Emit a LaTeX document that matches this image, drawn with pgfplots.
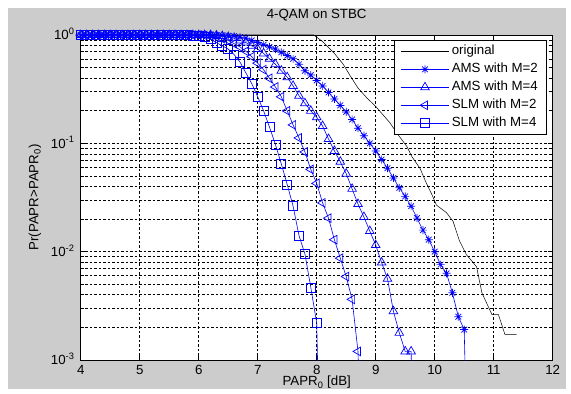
\documentclass[border=0pt]{standalone}
\usepackage{pgfplots}
\pgfplotsset{compat=1.18}
\usepackage{fontspec}
\setmainfont{Liberation Sans}
\pgfdeclareplotmark{mstar}{%
  \pgfpathmoveto{\pgfqpoint{-\pgfplotmarksize}{0pt}}\pgfpathlineto{\pgfqpoint{\pgfplotmarksize}{0pt}}%
  \pgfpathmoveto{\pgfqpoint{0pt}{-\pgfplotmarksize}}\pgfpathlineto{\pgfqpoint{0pt}{\pgfplotmarksize}}%
  \pgfpathmoveto{\pgfqpoint{-0.7071\pgfplotmarksize}{-0.7071\pgfplotmarksize}}\pgfpathlineto{\pgfqpoint{0.7071\pgfplotmarksize}{0.7071\pgfplotmarksize}}%
  \pgfpathmoveto{\pgfqpoint{-0.7071\pgfplotmarksize}{0.7071\pgfplotmarksize}}\pgfpathlineto{\pgfqpoint{0.7071\pgfplotmarksize}{-0.7071\pgfplotmarksize}}%
  \pgfusepathqstroke}
\definecolor{figgray}{RGB}{204,204,204}
\pgfplotsset{longleg/.style={legend image code/.code={%
  \draw[mark repeat=2,mark phase=2] plot coordinates {(0pt,0pt) (24pt,0pt) (48pt,0pt)};}}}
\begin{document}
\begin{tikzpicture}[font=\fontsize{13.3pt}{16pt}\selectfont]
\fill[white] (0,0) rectangle (571pt,394pt);
\fill[figgray] (8pt,5pt) rectangle (566pt,386pt);
\begin{axis}[
  at={(80.7pt,34pt)}, anchor=south west,
  scale only axis, width=472pt, height=325pt,
  xmin=4, xmax=12, ymode=log, ymin=1e-3, ymax=1,
  xtick={4,5,6,7,8,9,10,11,12}, xticklabels={4,5,6,7,8,9,10,11,12},
  ytick={1e-3,1e-2,1e-1,1},
  yticklabels={10\textsuperscript{-3},10\textsuperscript{-2},10\textsuperscript{-1},10\textsuperscript{0}},
  xticklabel style={anchor=north, inner sep=0pt, yshift=-5pt},
  yticklabel style={anchor=base east, inner sep=0pt, xshift=-6pt, yshift=-4.7pt},
  tick align=inside, major tick length=5pt, minor tick length=3pt,
  every tick/.style={black, line width=0.6pt},
  axis background/.style={fill=white},
  axis line style={line width=0.8pt},
  xmajorgrids, ymajorgrids, yminorgrids,
  major grid style={black, dash pattern=on 2.5pt off 2pt, line width=0.6pt},
  minor grid style={black, dash pattern=on 2.5pt off 2pt, line width=0.6pt},
  title={4-QAM on STBC},
  title style={at={(axis description cs:0.5,1)}, anchor=base, yshift=10pt, inner sep=0pt},
  xlabel={PAPR\textsubscript{0} [dB]},
  xlabel style={at={(axis description cs:0.5,0)}, anchor=north, yshift=-16pt, inner sep=0pt},
  ylabel={Pr(PAPR>PAPR\textsubscript{0})},
  ylabel style={at={(axis description cs:-0.097,0.5)}, anchor=center, inner sep=0pt},
  legend cell align=left,
  legend style={at={(axis description cs:1,1)}, anchor=north east, xshift=-6pt, yshift=-5pt,
    draw=black, fill=white, line width=0.6pt, row sep=0pt, inner xsep=6pt, inner ysep=2pt,
    nodes={inner sep=2.5pt, text height=10pt, text depth=3pt}},
]
\addplot[black, line width=0.5pt, longleg] coordinates {
(4,1) (7.95,1) (8.1,0.87) (8.3,0.676) (8.45,0.537) (8.56,0.427) (8.7,0.324) (8.85,0.263) (9.0,0.219)
(9.24,0.155) (9.38,0.120) (9.53,0.0933) (9.61,0.0759) (9.75,0.0589) (9.86,0.0427) (9.95,0.0339)
(10.03,0.0269) (10.2,0.0229) (10.31,0.0191) (10.42,0.0126) (10.54,0.00933) (10.62,0.00832)
(10.71,0.00724) (10.80,0.00417) (10.97,0.00263) (11.08,0.00263) (11.19,0.00172) (11.39,0.00172)};
\addlegendentry{original}
\addplot[blue, line width=0.6pt, mark=mstar, mark size=4pt, mark options={line width=0.7pt}, longleg] coordinates {
(4.0,0.999)(4.1,0.999)(4.2,0.999)(4.3,0.999)(4.4,0.999)(4.5,0.999)(4.6,0.999)(4.7,0.999)(4.8,0.999)(4.9,0.999)
(5.0,0.999)(5.1,0.999)(5.2,0.999)(5.3,0.999)(5.4,0.999)(5.5,0.999)(5.6,0.999)(5.7,0.999)(5.8,0.999)(5.9,0.999)
(6.0,0.999)(6.1,0.999)(6.2,0.999)(6.3,0.999)
(6.4,0.9931) (6.5,0.9863) (6.6,0.9772) (6.7,0.955) (6.8,0.9333) (6.9,0.8913) (7.0,0.8511) (7.1,0.8128)
(7.2,0.7762) (7.3,0.7413) (7.4,0.6918) (7.5,0.6457) (7.6,0.6026) (7.7,0.537) (7.8,0.4677) (7.9,0.4266)
(8.0,0.3802) (8.1,0.3388) (8.2,0.2951) (8.3,0.257) (8.4,0.2239) (8.5,0.195) (8.6,0.166) (8.7,0.138)
(8.8,0.1175) (8.9,0.1) (9.0,0.0851) (9.1,0.0708) (9.2,0.0589) (9.3,0.0479) (9.4,0.0389) (9.5,0.0324)
(9.6,0.0263) (9.7,0.0204) (9.8,0.0158) (9.9,0.0129) (10.0,0.01) (10.1,0.00759) (10.2,0.00631)
(10.3,0.00417) (10.4,0.00251) (10.5,0.00191) (10.6,0.00001)};
\addlegendentry{AMS with M=2}
\addplot[blue, line width=0.6pt, mark=triangle, mark size=5pt, mark options={line width=0.7pt}, longleg] coordinates {
(4.0,0.999)(4.1,0.999)(4.2,0.999)(4.3,0.999)(4.4,0.999)(4.5,0.999)(4.6,0.999)(4.7,0.999)(4.8,0.999)(4.9,0.999)
(5.0,0.999)(5.1,0.999)(5.2,0.999)(5.3,0.999)(5.4,0.999)(5.5,0.999)(5.6,0.999)(5.7,0.999)(5.8,0.999)(5.9,0.999)
(6.0,0.999)(6.1,0.999)(6.2,0.999)
(6.3,0.9886) (6.4,0.9772) (6.5,0.955) (6.6,0.9333) (6.7,0.8913) (6.8,0.8511) (6.9,0.7943) (7.0,0.7413)
(7.1,0.6761) (7.2,0.6026) (7.3,0.537) (7.4,0.4677) (7.5,0.4074) (7.6,0.3388) (7.7,0.2754) (7.8,0.2344)
(7.9,0.1995) (8.0,0.1738) (8.1,0.1445) (8.2,0.1096) (8.3,0.0851) (8.4,0.0676) (8.5,0.0525) (8.6,0.038)
(8.7,0.0275) (8.8,0.0209) (8.9,0.0155) (9.0,0.0115) (9.1,0.00794) (9.2,0.00562) (9.3,0.00282)
(9.4,0.00178) (9.5,0.0012) (9.6,0.0012) (9.7,0.00001)};
\addlegendentry{AMS with M=4}
\addplot[blue, line width=0.6pt, mark=triangle, mark size=5pt, mark options={rotate=90, line width=0.7pt}, longleg] coordinates {
(4.0,0.999)(4.1,0.999)(4.2,0.999)(4.3,0.999)(4.4,0.999)(4.5,0.999)(4.6,0.999)(4.7,0.999)(4.8,0.999)(4.9,0.999)
(5.0,0.999)(5.1,0.999)(5.2,0.999)(5.3,0.999)(5.4,0.999)(5.5,0.999)(5.6,0.999)(5.7,0.999)(5.8,0.999)(5.9,0.999)
(6.0,0.999)
(6.1,0.9886) (6.2,0.9772) (6.3,0.955) (6.4,0.9226) (6.5,0.8913) (6.6,0.8318) (6.7,0.7762) (6.8,0.7079)
(6.9,0.631) (7.0,0.5495) (7.1,0.4786) (7.2,0.3981) (7.3,0.3311) (7.4,0.2692) (7.5,0.1995) (7.6,0.1479)
(7.7,0.1122) (7.8,0.0832) (7.9,0.0575) (8.0,0.0427) (8.1,0.0282) (8.2,0.0204) (8.3,0.0129) (8.4,0.00871)
(8.5,0.00589) (8.6,0.00363) (8.7,0.0012) (8.8,0.00001)};
\addlegendentry{SLM with M=2}
\addplot[blue, line width=0.6pt, mark=square, mark size=4.5pt, mark options={line width=0.7pt}, longleg] coordinates {
(4.0,0.999)(4.1,0.999)(4.2,0.999)(4.3,0.999)(4.4,0.999)(4.5,0.999)(4.6,0.999)(4.7,0.999)(4.8,0.999)(4.9,0.999)
(5.0,0.999)(5.1,0.999)(5.2,0.999)(5.3,0.999)(5.4,0.999)(5.5,0.999)(5.6,0.999)(5.7,0.999)(5.8,0.999)
(5.9,0.9886) (6.0,0.9772) (6.1,0.955) (6.2,0.912) (6.3,0.8511) (6.4,0.7943) (6.5,0.7413) (6.6,0.6607)
(6.7,0.5623) (6.8,0.4467) (6.9,0.3548) (7.0,0.2692) (7.1,0.1995) (7.2,0.1413) (7.3,0.0977) (7.4,0.0646)
(7.5,0.0417) (7.6,0.0263) (7.7,0.0141) (7.8,0.00955) (7.9,0.00468) (8.0,0.00219) (8.1,0.00001)};
\addlegendentry{SLM with M=4}
\end{axis}
\end{tikzpicture}
\end{document}
